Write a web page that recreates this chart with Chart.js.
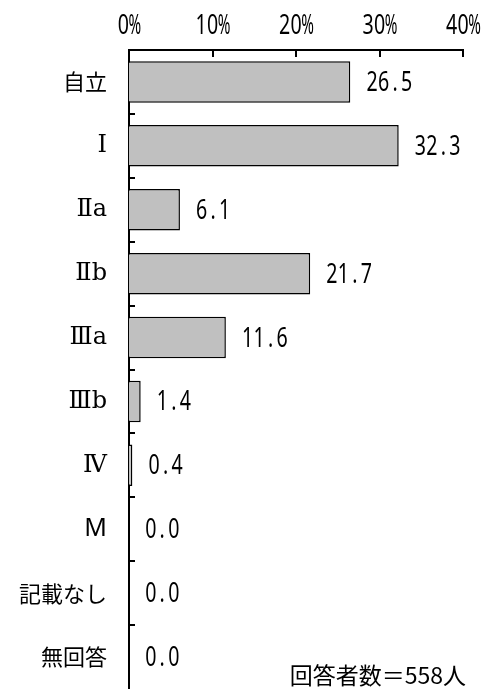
<!DOCTYPE html>
<html>
<head>
<meta charset="utf-8">
<script src="https://cdn.jsdelivr.net/npm/chart.js@4/dist/chart.umd.min.js"></script>
<style>
  body { margin: 0; background: #fff; }
</style>
</head>
<body>
<canvas id="levelChart" width="485" height="689"></canvas>
<script>
// 日常生活自立度の内訳 (%)
const categories = ['自立', 'Ⅰ', 'Ⅱa', 'Ⅱb', 'Ⅲa', 'Ⅲb', 'Ⅳ', 'M', '記載なし', '無回答'];
const percents = [26.5, 32.3, 6.1, 21.7, 11.6, 1.4, 0.4, 0.0, 0.0, 0.0];
const xTicks = [0, 10, 20, 30, 40];
const respondents = '回答者数＝558人';

// half-width, monospaced look for digits (like the original's gothic font)
function drawMono(ctx, text, x, y, align) {
    const cell = 11.5;
    const total = text.length * cell;
    let start = x;
    if (align === 'center') start = x - total / 2;
    if (align === 'right') start = x - total;
    ctx.save();
    ctx.font = '28px "Noto Sans", "DejaVu Sans", sans-serif';
    ctx.textAlign = 'center';
    ctx.textBaseline = 'middle';
    for (let i = 0; i < text.length; i++) {
        const w = ctx.measureText(text[i]).width;
        const k = Math.min(0.7, cell * 1.1 / w);
        ctx.save();
        ctx.translate(start + (i + 0.5) * cell, y);
        ctx.scale(k, 1);
        ctx.fillText(text[i], 0, 0);
        ctx.restore();
    }
    ctx.restore();
}

// tick marks point into the plot, so draw them here; also labels and the note
const extras = {
    id: 'extras',
    afterDatasetsDraw(chart) {
        const ctx = chart.ctx;
        const xs = chart.scales.x, ys = chart.scales.y;
        const area = chart.chartArea;
        ctx.save();
        ctx.strokeStyle = '#000';
        ctx.lineWidth = 2;
        ctx.beginPath();
        xTicks.forEach(v => {
            const px = Math.round(xs.getPixelForValue(v));
            ctx.moveTo(px, area.top);
            ctx.lineTo(px, area.top + 7);
        });
        for (let i = 1; i < categories.length; i++) {
            const py = Math.round((ys.getPixelForValue(i - 1) + ys.getPixelForValue(i)) / 2);
            ctx.moveTo(area.left, py);
            ctx.lineTo(area.left + 6, py);
        }
        ctx.stroke();

        ctx.fillStyle = '#000';
        xTicks.forEach(v => {
            drawMono(ctx, v + '%', xs.getPixelForValue(v), area.top - 24, 'center');
        });
        chart.getDatasetMeta(0).data.forEach((bar, i) => {
            drawMono(ctx, percents[i].toFixed(1), bar.x + 16, bar.y + 1, 'left');
        });

        ctx.font = '23px "Noto Sans CJK JP", sans-serif';
        ctx.textAlign = 'right';
        ctx.textBaseline = 'alphabetic';
        ctx.fillText(respondents, 466, 684);
        ctx.restore();
    }
};

const noPad = s => { s.paddingLeft = 0; s.paddingRight = 0; s.paddingTop = 0; s.paddingBottom = 0; };
const hasRoman = /[Ⅰ-Ⅻ]/;

function labelFont(c) {
    const name = categories[c.index];
    if (hasRoman.test(name)) return { family: '"DejaVu Serif", "Noto Sans CJK JP", serif', size: 24 };
    if (/^[A-Z]+$/.test(name)) return { family: '"Noto Sans", sans-serif', size: 25 };
    return { family: '"Noto Sans CJK JP", sans-serif', size: 22 };
}

const levelChart = new Chart(document.getElementById('levelChart'), {
    type: 'bar',
    data: {
        labels: categories,
        datasets: [{
            data: percents,
            backgroundColor: '#c0c0c0',
            borderColor: '#000',
            borderWidth: 1.5,
            barPercentage: 0.65,
            categoryPercentage: 1
        }]
    },
    options: {
        indexAxis: 'y',
        responsive: false,
        animation: false,
        layout: { padding: { left: 0, right: 22, top: 0, bottom: 0 } },
        plugins: {
            legend: { display: false },
            tooltip: { enabled: false }
        },
        scales: {
            x: {
                position: 'top',
                min: 0,
                max: 40,
                afterFit: s => { s.height = 50; noPad(s); },
                afterBuildTicks: s => { s.ticks = xTicks.map(v => ({ value: v })); },
                grid: { display: false, drawTicks: false },
                border: { display: true, color: '#000', width: 2 },
                ticks: { display: false }
            },
            y: {
                afterFit: s => { s.width = 129; noPad(s); },
                grid: { display: false, drawTicks: false },
                border: { display: true, color: '#000', width: 2 },
                ticks: {
                    padding: 22,
                    color: '#000',
                    font: labelFont
                }
            }
        }
    },
    plugins: [extras]
});
</script>
</body>
</html>
